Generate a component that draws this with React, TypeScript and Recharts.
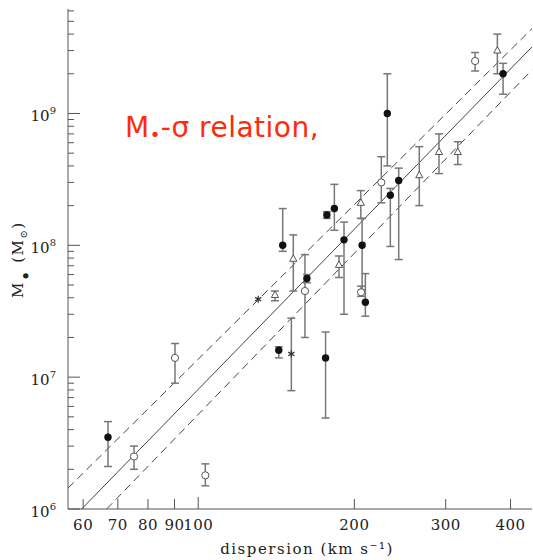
import React from "react";
import {
  ScatterChart,
  Scatter,
  XAxis,
  YAxis,
  ErrorBar,
  ReferenceLine,
} from "recharts";

// sigma in km/s, m / lo / hi in solar masses
const FILLED = [
  { sigma: 67, m: 3.5e6, lo: 2.1e6, hi: 4.6e6 },
  { sigma: 143, m: 1.6e7, lo: 1.4e7, hi: 1.7e7 },
  { sigma: 145.5, m: 1.0e8, lo: 9.0e7, hi: 1.9e8 },
  { sigma: 162, m: 5.6e7, lo: 5.2e7, hi: 6.0e7 },
  { sigma: 176, m: 1.4e7, lo: 4.9e6, hi: 2.2e7 },
  { sigma: 177, m: 1.7e8, lo: 1.6e8, hi: 1.8e8 },
  { sigma: 183, m: 1.9e8, lo: 1.3e8, hi: 2.9e8 },
  { sigma: 191, m: 1.1e8, lo: 3.0e7, hi: 1.5e8 },
  { sigma: 207, m: 1.0e8, lo: 4.6e7, hi: 1.6e8 },
  { sigma: 210, m: 3.7e7, lo: 2.9e7, hi: 6.1e7 },
  { sigma: 231.5, m: 1.0e9, lo: 4.0e8, hi: 2.0e9 },
  { sigma: 234.6, m: 2.4e8, lo: 9.8e7, hi: 2.7e8 },
  { sigma: 243.5, m: 3.1e8, lo: 7.8e7, hi: 3.85e8 },
  { sigma: 387, m: 2.0e9, lo: 1.4e9, hi: 2.4e9 },
];

const OPEN = [
  { sigma: 75.2, m: 2.5e6, lo: 2.0e6, hi: 3.0e6 },
  { sigma: 90.2, m: 1.4e7, lo: 9.0e6, hi: 1.8e7 },
  { sigma: 103.2, m: 1.8e6, lo: 1.5e6, hi: 2.2e6 },
  { sigma: 160.6, m: 4.5e7, lo: 2.0e7, hi: 8.5e7 },
  { sigma: 206, m: 4.4e7, lo: 4.1e7, hi: 4.9e7 },
  { sigma: 225.4, m: 3.0e8, lo: 2.1e8, hi: 4.7e8 },
  { sigma: 341.8, m: 2.5e9, lo: 2.1e9, hi: 2.9e9 },
];

const TRIANGLES = [
  { sigma: 140.6, m: 4.2e7, lo: 3.8e7, hi: 4.5e7 },
  { sigma: 152.5, m: 7.9e7, lo: 4.5e7, hi: 1.2e8 },
  { sigma: 186.8, m: 7.1e7, lo: 5.7e7, hi: 8.3e7 },
  { sigma: 205.8, m: 2.1e8, lo: 1.6e8, hi: 2.6e8 },
  { sigma: 266.8, m: 3.4e8, lo: 2.0e8, hi: 5.6e8 },
  { sigma: 291.2, m: 5.1e8, lo: 3.5e8, hi: 7.0e8 },
  { sigma: 316.5, m: 5.1e8, lo: 4.1e8, hi: 6.1e8 },
  { sigma: 377.3, m: 3.0e9, lo: 2.0e9, hi: 4.0e9 },
];

const STARS = [
  { sigma: 130.5, m: 3.9e7, lo: null, hi: null },
  { sigma: 151.2, m: 1.5e7, lo: 7.9e6, hi: 2.8e7 },
];

// fit line and its two dashed bounds, end points
const FIT_SOLID = [
  { sigma: 59.6, m: 1.0e6 },
  { sigma: 440, m: 3.2e9 },
];
const FIT_UPPER = [
  { sigma: 56.1, m: 1.44e6 },
  { sigma: 440, m: 4.4e9 },
];
const FIT_LOWER = [
  { sigma: 66.6, m: 1.0e6 },
  { sigma: 440, m: 2.14e9 },
];

const X_MIN = 56.1;
const X_MAX = 440;
const Y_MIN = 1e6;
const Y_MAX = 6.2e9;

const X_TICKS = [60, 70, 80, 90, 100, 200, 300, 400];
const Y_MAJOR = [1e6, 1e7, 1e8, 1e9];
const Y_TICKS = [6, 7, 8, 9]
  .flatMap((e) => [1, 2, 3, 4, 5, 6, 7, 8, 9].map((k) => k * Math.pow(10, e)))
  .filter((v) => v <= Y_MAX);

const AXIS = "#555";
const ERR = "#777";
const SERIF = "'DejaVu Serif', serif";

const withErr = (rows: any[]) =>
  rows.map((r) => ({
    ...r,
    err: r.lo == null ? null : [r.m - r.lo, r.hi - r.m],
  }));

const isMajor = (v: number) => Y_MAJOR.some((m) => Math.abs(v - m) / m < 1e-6);

const BottomTick = (p: any) => {
  const len = p.payload.value === 100 ? 12 : 10;
  return (
    <g>
      <line x1={p.x} x2={p.x} y1={p.y} y2={p.y - len} stroke={AXIS} />
      <text
        x={p.x}
        y={p.y + 21}
        textAnchor="middle"
        fontFamily={SERIF}
        fontSize={15}
        letterSpacing={0.5}
        fill="#222"
      >
        {p.payload.value}
      </text>
    </g>
  );
};

const TopTick = (p: any) => {
  const len = p.payload.value === 100 ? 12 : 10;
  return <line x1={p.x} x2={p.x} y1={p.y} y2={p.y + len} stroke={AXIS} />;
};

const LeftTick = (p: any) => {
  const v = p.payload.value;
  const major = isMajor(v);
  return (
    <g>
      <line x1={p.x} x2={p.x + (major ? 12 : 6)} y1={p.y} y2={p.y} stroke={AXIS} />
      {major && (
        <text x={p.x - 12} y={p.y + 7.5} textAnchor="end" fontFamily={SERIF} fill="#222">
          <tspan fontSize={15}>10</tspan>
          <tspan fontSize={10} dy={-7}>
            {Math.round(Math.log10(v))}
          </tspan>
        </text>
      )}
    </g>
  );
};

const RightTick = (p: any) => {
  const major = isMajor(p.payload.value);
  return <line x1={p.x} x2={p.x - (major ? 8 : 4)} y1={p.y} y2={p.y} stroke={AXIS} />;
};

const filledDot = (p: any) => <circle cx={p.cx} cy={p.cy} r={3.7} fill="#111" />;
const openDot = (p: any) => (
  <circle cx={p.cx} cy={p.cy} r={3.6} fill="#fff" stroke="#555" strokeWidth={1} />
);
const triangle = (p: any) => (
  <path
    d={`M${p.cx},${p.cy - 4}L${p.cx + 3.6},${p.cy + 2.5}L${p.cx - 3.6},${p.cy + 2.5}Z`}
    fill="#fff"
    stroke="#555"
    strokeWidth={1}
  />
);
const star = (p: any) => (
  <g stroke="#333" strokeWidth={1.3}>
    <line x1={p.cx} x2={p.cx} y1={p.cy - 3.6} y2={p.cy + 3.6} />
    <line x1={p.cx - 3.1} x2={p.cx + 3.1} y1={p.cy - 1.8} y2={p.cy + 1.8} />
    <line x1={p.cx - 3.1} x2={p.cx + 3.1} y1={p.cy + 1.8} y2={p.cy - 1.8} />
  </g>
);

const seg = (pts: { sigma: number; m: number }[]) =>
  pts.map((d) => ({ x: d.sigma, y: d.m }));

export default function App() {
  return (
    <div style={{ position: "absolute", left: 0, top: 0, width: 533, height: 560, background: "#fff" }}>
      <ScatterChart width={533} height={560} margin={{ top: 9, right: 1, bottom: 0, left: 0 }}>
        <XAxis
          xAxisId="b"
          dataKey="sigma"
          type="number"
          scale="log"
          domain={[X_MIN, X_MAX]}
          allowDataOverflow
          ticks={X_TICKS}
          interval={0}
          tickLine={false}
          tickSize={0}
          tickMargin={0}
          height={51}
          stroke={AXIS}
          tick={BottomTick}
        />
        <XAxis
          xAxisId="t"
          orientation="top"
          type="number"
          scale="log"
          domain={[X_MIN, X_MAX]}
          allowDataOverflow
          ticks={X_TICKS}
          interval={0}
          tickLine={false}
          tickSize={0}
          tickMargin={0}
          height={0}
          stroke={AXIS}
          tick={TopTick}
        />
        <YAxis
          yAxisId="l"
          dataKey="m"
          type="number"
          scale="log"
          domain={[Y_MIN, Y_MAX]}
          allowDataOverflow
          ticks={Y_TICKS}
          interval={0}
          tickLine={false}
          tickSize={0}
          tickMargin={0}
          width={68}
          stroke={AXIS}
          tick={LeftTick}
        />
        <YAxis
          yAxisId="r"
          orientation="right"
          type="number"
          scale="log"
          domain={[Y_MIN, Y_MAX]}
          allowDataOverflow
          ticks={Y_TICKS}
          interval={0}
          tickLine={false}
          tickSize={0}
          tickMargin={0}
          width={0}
          stroke={AXIS}
          tick={RightTick}
        />
        <ReferenceLine xAxisId="b" yAxisId="l" segment={seg(FIT_SOLID)} stroke="#444" ifOverflow="visible" />
        <ReferenceLine
          xAxisId="b"
          yAxisId="l"
          segment={seg(FIT_UPPER)}
          stroke="#444"
          strokeDasharray="8 5"
          ifOverflow="visible"
        />
        <ReferenceLine
          xAxisId="b"
          yAxisId="l"
          segment={seg(FIT_LOWER)}
          stroke="#444"
          strokeDasharray="8 5"
          ifOverflow="visible"
        />
        <Scatter xAxisId="b" yAxisId="l" data={withErr(OPEN)} shape={openDot} isAnimationActive={false}>
          <ErrorBar dataKey="err" direction="y" width={4} stroke={ERR} />
        </Scatter>
        <Scatter xAxisId="b" yAxisId="l" data={withErr(TRIANGLES)} shape={triangle} isAnimationActive={false}>
          <ErrorBar dataKey="err" direction="y" width={4} stroke={ERR} />
        </Scatter>
        <Scatter xAxisId="b" yAxisId="l" data={withErr(STARS)} shape={star} isAnimationActive={false}>
          <ErrorBar dataKey="err" direction="y" width={4} stroke={ERR} />
        </Scatter>
        <Scatter xAxisId="b" yAxisId="l" data={withErr(FILLED)} shape={filledDot} isAnimationActive={false}>
          <ErrorBar dataKey="err" direction="y" width={4} stroke={ERR} />
        </Scatter>
      </ScatterChart>
      <svg
        width={533}
        height={560}
        style={{ position: "absolute", left: 0, top: 0, pointerEvents: "none" }}
      >
        <text
          x={307}
          y={554}
          textAnchor="middle"
          fontFamily={SERIF}
          fontSize={15}
          letterSpacing={1.5}
          fill="#222"
        >
          dispersion (km s⁻¹)
        </text>
        <text
          x={23}
          y={298}
          transform="rotate(-90 23 298)"
          fontFamily={SERIF}
          fontSize={15}
          letterSpacing={1.5}
          fill="#222"
        >
          <tspan>M</tspan>
          <tspan fontSize={18} dy={10}>•</tspan>
          <tspan dy={-10}> (M</tspan>
          <tspan fontSize={10} dy={4}>⊙</tspan>
          <tspan dy={-4}>)</tspan>
        </text>
        <text
          x={125}
          y={137}
          fontFamily="'DejaVu Sans', sans-serif"
          fontSize={28}
          letterSpacing={0.5}
          fill="#ff2a0a"
        >
          <tspan>M</tspan>
          <tspan fontSize={18} dy={4}>•</tspan>
          <tspan dy={-4}>-σ relation,</tspan>
        </text>
      </svg>
    </div>
  );
}
